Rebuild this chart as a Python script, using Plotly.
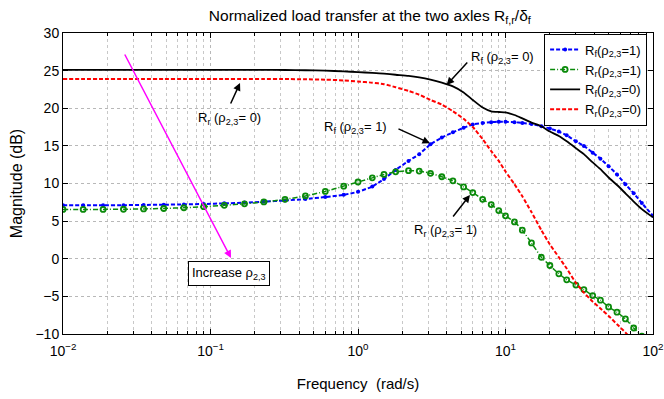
import plotly.graph_objects as go

# Frequency grid (rad/s)
freq = [0.01, 0.0137, 0.0187, 0.0257, 0.0352, 0.0482, 0.066, 0.09, 0.124, 0.17,
        0.23, 0.32, 0.44, 0.6, 0.8, 1.0, 1.25, 1.5, 1.8, 2.2, 2.6, 3.1, 3.7, 4.4,
        5.2, 6.0, 7.0, 8.0, 9.0, 10, 11.5, 13, 15, 17.5, 20, 23, 26, 30, 34, 39,
        44, 50, 57, 65, 74, 84, 100]

# R_f (rho_{2,3}=1)  -- blue
rf_rho1 = [7.1, 7.1, 7.1, 7.12, 7.15, 7.18, 7.22, 7.28, 7.36, 7.46,
           7.58, 7.74, 7.93, 8.2, 8.5, 8.9, 9.6, 10.6, 11.8, 13.0, 13.9, 15.2, 16.1, 16.8,
           17.4, 17.85, 18.05, 18.15, 18.2, 18.2, 18.15, 18.05, 17.9, 17.6, 17.3, 16.9, 16.4, 15.6, 15.0, 14.1,
           13.3, 12.3, 11.2, 9.9, 8.7, 7.4, 5.7]

# R_r (rho_{2,3}=1)  -- green
rr_rho1 = [6.55, 6.55, 6.56, 6.58, 6.62, 6.68, 6.78, 6.92, 7.1, 7.3,
           7.55, 7.9, 8.35, 8.95, 9.65, 10.2, 10.75, 11.2, 11.55, 11.7, 11.65, 11.35, 10.9, 10.35,
           9.55, 8.8, 7.9, 7.2, 6.4, 5.7, 4.9, 3.8, 2.1, 0.2, -0.9, -2.0, -2.8, -3.5, -4.1, -4.9,
           -5.5, -6.4, -7.1, -8.0, -9.2, -10.3, -12.0]

# R_f (rho_{2,3}=0)  -- black
rf_rho0 = [25.1, 25.1, 25.1, 25.1, 25.1, 25.1, 25.1, 25.1, 25.1, 25.1,
           25.1, 25.08, 25.05, 25.0, 24.9, 24.8, 24.7, 24.6, 24.45, 24.3, 24.1, 23.8, 23.4, 22.9,
           22.1, 21.1, 20.1, 19.6, 19.5, 19.45, 19.1, 18.65, 18.1, 17.6, 16.9, 16.3, 15.6, 14.7, 13.9, 12.8,
           11.9, 10.8, 9.8, 8.7, 7.6, 6.6, 5.5]

# R_r (rho_{2,3}=0)  -- red
rr_rho0 = [23.9, 23.9, 23.9, 23.9, 23.9, 23.9, 23.9, 23.9, 23.9, 23.9,
           23.9, 23.88, 23.85, 23.8, 23.7, 23.55, 23.4, 23.2, 22.8, 22.3, 21.8, 21.1, 20.5, 19.6,
           18.6, 17.5, 15.9, 14.3, 13.0, 11.6, 9.9, 8.3, 6.2, 3.8, 1.9, 0.2, -1.3, -3.2, -4.5, -5.7,
           -6.6, -7.6, -8.7, -9.8, -11.0, -12.5, -14.0]

x_tickvals = [0.01, 0.1, 1, 10, 100]
x_ticktext = ["10<sup>−2</sup>", "10<sup>−1</sup>", "10<sup>0</sup>", "10<sup>1</sup>", "10<sup>2</sup>"]
y_tickvals = [-10, -5, 0, 5, 10, 15, 20, 25, 30]
y_ticktext = ["−10", "−5", "0", "5", "10", "15", "20", "25", "30"]

FONT = "Liberation Sans, Arial, Helvetica, sans-serif"

fig = go.Figure()
fig.add_trace(go.Scatter(x=freq, y=rf_rho1, mode="lines+markers",
                         name="R<sub>f</sub>(ρ<sub>2,3</sub>=1)",
                         line=dict(color="#0000ff", width=2, dash="4px,2px", shape="spline", smoothing=0.5),
                         marker=dict(symbol="circle", size=4, color="#0000ff")))
fig.add_trace(go.Scatter(x=freq, y=rr_rho1, mode="lines+markers",
                         name="R<sub>r</sub>(ρ<sub>2,3</sub>=1)",
                         line=dict(color="#0a8a0a", width=1.5, dash="5px,2px,1px,2px", shape="spline", smoothing=0.5),
                         marker=dict(symbol="circle-open", size=5, color="#0a8a0a",
                                     line=dict(width=1.8, color="#0a8a0a"))))
fig.add_trace(go.Scatter(x=freq, y=rf_rho0, mode="lines",
                         name="R<sub>f</sub>(ρ<sub>2,3</sub>=0)",
                         line=dict(color="#000000", width=1.8, shape="spline", smoothing=0.6)))
fig.add_trace(go.Scatter(x=freq, y=rr_rho0, mode="lines",
                         name="R<sub>r</sub>(ρ<sub>2,3</sub>=0)",
                         line=dict(color="#ff0000", width=2, dash="4px,2px", shape="spline", smoothing=0.5)))

ann_font = dict(family=FONT, size=13, color="black")
annotations = [
    # labels
    dict(x=0.983, y=26.8, text="R<sub>f</sub> (ρ<sub>2,3</sub>= 0)", showarrow=False, font=ann_font),
    dict(x=-0.868, y=18.7, text="R<sub>r</sub> (ρ<sub>2,3</sub>= 0)", showarrow=False, font=ann_font),
    dict(x=-0.014, y=17.4, text="R<sub>f</sub> (ρ<sub>2,3</sub>= 1)", showarrow=False, font=ann_font),
    dict(x=0.590, y=3.8, text="R<sub>r</sub> (ρ<sub>2,3</sub>= 1)", showarrow=False, font=ann_font),
    dict(x=-0.875, y=-1.9, text="Increase ρ<sub>2,3</sub>", showarrow=False, font=ann_font,
         bordercolor="black", borderwidth=1, borderpad=3, bgcolor="white"),
    # arrows
    dict(x=0.601, y=23.1, ax=22, ay=-24, text="", showarrow=True, arrowhead=2, arrowsize=1,
         arrowwidth=1.5, arrowcolor="black"),
    dict(x=-0.80, y=23.35, ax=-10, ay=22, text="", showarrow=True, arrowhead=2, arrowsize=1,
         arrowwidth=1.5, arrowcolor="black"),
    dict(x=0.488, y=15.35, ax=-33, ay=-15, text="", showarrow=True, arrowhead=2, arrowsize=1,
         arrowwidth=1.5, arrowcolor="black"),
    dict(x=0.759, y=8.47, ax=-18, ay=23, text="", showarrow=True, arrowhead=2, arrowsize=1,
         arrowwidth=1.5, arrowcolor="black"),
    dict(x=-0.861, y=0.1, ax=-107, ay=-205, text="", showarrow=True, arrowhead=2, arrowsize=1,
         arrowwidth=1.5, arrowcolor="#ff00ff"),
]
for a in annotations:
    a.setdefault("xref", "x")
    a.setdefault("yref", "y")
fig.update_layout(annotations=annotations)

axis_common = dict(showline=True, linecolor="black", linewidth=1, mirror="ticks",
                   ticks="inside", ticklen=5, tickcolor="black",
                   showgrid=True, gridcolor="#b8b8b8", griddash="dot", gridwidth=1,
                   zeroline=False, automargin=False,
                   tickfont=dict(family=FONT, size=14, color="black"))

fig.update_xaxes(type="log", range=[-2, 2], tickvals=x_tickvals, ticktext=x_ticktext,
                 ticklabelstandoff=4,
                 minor=dict(dtick="D1", ticks="inside", ticklen=3, tickcolor="black",
                            showgrid=True, gridcolor="#c8c8c8", griddash="dot", gridwidth=1),
                 title=dict(text="Frequency  (rad/s)", font=dict(family=FONT, size=15, color="black"),
                            standoff=20),
                 **axis_common)
fig.update_yaxes(range=[-10, 30], tickvals=y_tickvals, ticktext=y_ticktext,
                 title=dict(text="Magnitude (dB)", font=dict(family=FONT, size=16, color="black"),
                            standoff=8),
                 **axis_common)

fig.update_layout(
    width=664, height=399,
    margin=dict(l=63, r=11, t=33, b=65),
    paper_bgcolor="white", plot_bgcolor="white",
    title=dict(text="Normalized load transfer at the two axles R<sub>f,r</sub>/δ<sub>f</sub>",
               x=0.557, xanchor="center", y=0.962, yanchor="middle",
               font=dict(family=FONT, size=15.5, color="black")),
    legend=dict(x=0.99, y=0.998, xanchor="right", yanchor="top",
                bgcolor="white", bordercolor="black", borderwidth=1,
                font=dict(family=FONT, size=13, color="black"),
                tracegroupgap=0, itemwidth=30),
    showlegend=True,
)

fig.write_html("out.html")
